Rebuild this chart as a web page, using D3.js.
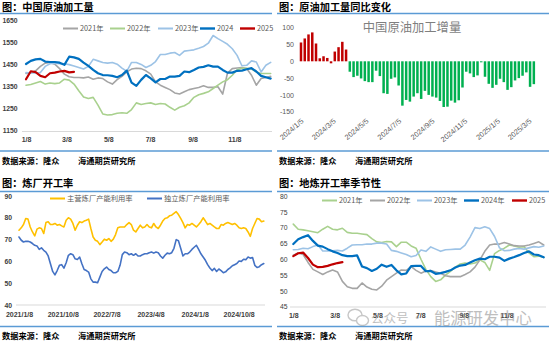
<!DOCTYPE html>
<html><head><meta charset="utf-8">
<script src="https://cdn.jsdelivr.net/npm/d3@7"></script>
<style>body{margin:0;background:#fff}svg{display:block}</style>
</head><body>
<svg id="c" width="550" height="341"></svg>
<script>
// ---------- DATA ----------
// Panel 1: China crude runs, weekly from 1/8 (seasonal)
const seasonTicks = ["1/8","3/8","5/8","7/8","9/8","11/8"];
const runs2021 = [1408,1410,1420,1440,1455,1458,1450,1430,1405,1393,1390,1390,1388,1392,1382,1388,1385,1370,1360,1380,1395,1415,1428,1432,1430,1420,1405,1370,1355,1345,1335,1320,1315,1325,1335,1340,1345,1352,1345,1345,1348,1315,1410,1430,1433,1435,1430,1400,1355,1385,1390,1395];
const runs2022 = [1355,1358,1365,1372,1360,1365,1362,1365,1382,1378,1360,1330,1302,1295,1300,1265,1225,1220,1222,1228,1230,1228,1245,1275,1268,1272,1275,1268,1272,1270,1255,1242,1255,1262,1275,1300,1312,1318,1325,1340,1355,1370,1380,1400,1425,1432,1432,1428,1415,1408,1408,1408];
const runs2023 = [1412,1410,1410,1412,1440,1452,1455,1452,1452,1448,1442,1435,1428,1440,1472,1465,1458,1455,1458,1450,1432,1418,1458,1458,1449,1435,1445,1462,1494,1494,1500,1503,1490,1509,1512,1515,1522,1530,1545,1580,1566,1553,1540,1520,1490,1443,1445,1465,1460,1415,1445,1458];
const runs2024 = [1451,1465,1472,1474,1462,1460,1460,1457,1447,1484,1481,1474,1457,1442,1424,1409,1401,1400,1397,1391,1401,1421,1367,1352,1379,1401,1386,1368,1383,1383,1394,1394,1397,1417,1414,1424,1435,1438,1445,1439,1439,1424,1412,1412,1420,1421,1427,1432,1417,1397,1391,1385];
const runs2025 = [1382,1418,1414,1397,1391,1409,1412,1417,1420,1413,1415];
const runsYTicks = [1150,1250,1350,1450,1550,1650];
const runsSeries = ["2021年","2022年","2023年","2024","2025"];

// Panel 2: YoY change, weekly from 2024/1/5
const yoyStart = "2024/1/5";
const yoyUp = [56,68,80,86,53,9,15,10,-6,29,42,58,35];
const yoyDown = [-31,-47,-43,-51,-59,-62,-62,-28,-44,-95,-97,-52,-48,-72,-132,-115,-120,-105,-95,-112,-88,-100,-105,-108,-118,-136,-135,-117,-123,-116,-78,-31,-36,-47,-42,-3,-46,-67,-79,-70,-52,-62,-85,-77,-57,-50,-43,-33,-76,-68];
const yoyTicks = ["2024/1/5","2024/3/5","2024/5/5","2024/7/5","2024/9/5","2024/11/5","2025/1/5","2025/3/5"];
const yoyYTicks = [-150,-100,-50,0,50,100];

// Panel 3: refinery utilisation, bi-weekly from 2021/1/8
const utilStart = "2021/1/8";
const utilMain = [74.3,75.4,76.9,79.7,79.4,75.8,73.5,71.7,74.8,75.4,75.1,72.8,77.8,78.2,76.9,76.9,77.4,76.6,76.9,76.3,75.8,78.9,80.0,79.4,77.4,74.3,76.6,78.2,77.8,78.5,78.9,79.4,75.1,71.2,69.7,69.2,67.7,68.9,70.2,69.7,70.5,69.2,70.2,72.3,75.4,75.8,75.8,75.8,76.9,77.8,76.9,74.3,73.5,75.1,76.6,75.4,75.8,76.9,75.8,75.4,77.4,75.8,75.1,76.6,78.5,79.7,80.0,80.9,81.2,82.0,82.8,81.5,79.7,77.8,75.4,76.9,76.6,77.4,76.6,75.8,76.9,78.2,80.0,78.5,76.9,77.4,76.6,75.8,75.1,75.1,76.9,76.6,77.4,77.8,77.4,76.9,77.4,76.6,75.4,75.1,75.4,75.1,73.5,71.5,75.1,77.4,79.7,79.4,78.2,78.5];
const utilIndep = [71.2,69.7,68.9,69.2,69.2,68.9,68.2,67.4,67.1,65.5,66.2,65.1,64.3,62.5,58.9,55.4,53.8,55.8,58.2,58.5,56.9,59.4,62.8,63.5,63.1,61.2,60.9,62.0,58.9,56.3,55.8,55.1,52.0,50.5,50.5,50.2,52.8,55.4,56.6,57.4,56.3,55.8,54.8,54.8,55.4,58.2,63.1,64.3,64.0,63.1,63.5,62.8,63.5,62.5,62.5,63.1,63.5,63.5,64.0,64.3,63.8,64.3,64.0,62.5,61.5,62.8,63.8,63.5,64.0,66.0,70.0,69.5,66.0,62.5,63.5,63.5,64.3,65.5,66.5,67.4,65.5,63.5,62.0,60.5,58.5,57.0,55.8,56.8,55.4,56.5,55.8,54.8,55.2,56.3,57.0,58.0,58.5,59.0,60.2,60.0,61.0,60.8,62.0,61.5,61.8,58.2,57.2,57.6,58.5,59.0];
const utilTicks = ["2021/1/8","2021/10/8","2022/7/8","2023/4/8","2024/1/8","2024/10/8"];
const utilYTicks = [40,50,60,70,80,90];
const utilSeries = ["主营炼厂产能利用率","独立炼厂产能利用率"];

// Panel 4: teapot utilisation seasonal, weekly from 1/8
const tp2021 = [71.1,69.5,69.3,69.0,68.7,68.4,69.5,70.4,69.5,69.3,69.8,68.5,68.2,68.2,68.0,67.8,66.5,65.5,65.3,65.6,65.5,64.0,65.4,65.4,64.2,63.5,60.0,56.8,54.5,53.0,53.5,55.0,56.2,57.5,58.5,58.8,58.5,58.8,59.8,59.0,56.5,61.8,62.8,63.5,64.5,64.2,63.8,64.0,62.0,60.8,61.0,60.6];
const tp2022 = [61.3,62.0,61.5,59.0,56.8,56.0,55.2,56.0,56.6,56.0,53.0,51.3,50.8,50.8,52.5,51.2,50.5,50.3,51.5,53.4,54.5,55.6,56.6,56.5,57.7,56.5,55.6,56.3,56.4,56.0,55.6,54.8,54.5,54.5,54.5,55.2,56.0,57.5,59.8,62.5,64.5,64.8,64.8,65.3,64.8,64.3,64.2,64.2,64.5,65.0,65.5,64.5];
const tp2023 = [63.0,63.1,63.5,63.3,64.0,64.5,62.6,62.6,62.7,62.8,62.6,63.5,64.5,64.6,64.6,64.8,64.8,65.1,65.1,64.8,62.8,62.5,62.0,61.5,60.8,61.2,62.9,62.5,63.9,63.2,62.5,63.0,63.1,63.2,63.2,64.5,67.0,70.0,69.7,70.3,69.7,67.2,63.6,62.7,62.8,63.2,63.4,63.2,63.6,64.0,63.8,64.2];
const tp2024 = [64.8,66.3,67.0,67.6,65.8,64.3,64.0,63.2,62.5,62.0,61.3,61.0,61.0,61.2,57.7,57.2,56.3,57.0,58.3,57.6,58.2,56.5,55.2,55.5,57.8,57.9,57.9,56.2,56.3,55.4,55.6,56.0,56.5,57.4,58.0,58.2,59.0,59.7,60.2,60.0,60.8,60.8,60.5,59.5,60.2,60.7,61.3,62.0,62.5,61.5,61.3,60.6];
const tp2025 = [61.0,61.9,62.1,60.4,58.3,57.5,57.6,57.9,58.4,58.8,59.1];
const tpYTicks = [45,50,55,60,65,70,75,80];
const tpSeries = ["2021年","2022年","2023年","2024年","2025"];

// ---------- SETUP ----------
const svg = d3.select("#c");
const LAT = "'Liberation Sans', Arial, sans-serif";
const CJK = "'Noto Sans CJK SC', 'Noto Sans', sans-serif";
const RULE = "#5B9BD5";
const AX = "#404040";
const C_GREY = "#A5A5A5", C_GREEN = "#A9D18E", C_LBLUE = "#9DC3E6", C_BLUE = "#0070C0", C_RED = "#C00000";
const plain = d => String(d);

const parseYMD = d3.timeParse("%Y/%m/%d");
const parseMD = s => { const [m, d] = s.split("/").map(Number); return new Date(2023, m - 1, d); };
const seasonDate = i => d3.timeDay.offset(new Date(2023, 0, 8), 7 * i);

function frame(x0, x1, title, top) {
  const tY = top ? 10.5 : 186.5, rTop = top ? 13.5 : 191.5, rBot = top ? 151 : 326.5, sY = top ? 164 : 339;
  svg.append("text").attr("x", x0 + 2).attr("y", tY).attr("font-family", CJK)
    .attr("font-size", 10.2).attr("font-weight", 700).attr("fill", "#000").text(title);
  svg.append("line").attr("x1", x0).attr("x2", x1).attr("y1", rTop).attr("y2", rTop)
    .attr("stroke", RULE).attr("stroke-width", 1.5);
  svg.append("line").attr("x1", x0).attr("x2", x1).attr("y1", rBot).attr("y2", rBot)
    .attr("stroke", RULE).attr("stroke-width", 1.5);
  svg.append("text").attr("x", x0 + 2).attr("y", sY).attr("font-family", CJK)
    .attr("font-size", 8.2).attr("font-weight", 700).attr("fill", "#000").text("数据来源：隆众");
  svg.append("text").attr("x", x0 + 78).attr("y", sY).attr("font-family", CJK)
    .attr("font-size", 8.2).attr("font-weight", 700).attr("fill", "#000").text("海通期货研究所");
}

function styleAxis(g, size, weight, color) {
  g.select(".domain").remove();
  g.selectAll("text").attr("font-family", LAT).attr("font-size", size)
    .attr("font-weight", weight).attr("fill", color);
}

function legend(items, y) {
  items.forEach(it => {
    svg.append("line").attr("x1", it.x).attr("x2", it.x + 15).attr("y1", y).attr("y2", y)
      .attr("stroke", it.color).attr("stroke-width", it.w || 2);
    svg.append("text").attr("x", it.x + 17).attr("y", y + 2.6).attr("font-family", CJK)
      .attr("font-size", 7.3).attr("fill", "#595959").text(it.label);
  });
}

function drawLine(data, xf, y, color, w) {
  svg.append("path").datum(data).attr("fill", "none").attr("stroke", color)
    .attr("stroke-width", w).attr("stroke-linejoin", "round").attr("stroke-linecap", "round")
    .attr("d", d3.line().x((d, i) => xf(i)).y(d => y(d)));
}

// ---------- PANEL 1 ----------
frame(0, 272, "图：中国原油加工量", true);
{
  const x = d3.scaleTime().domain([new Date(2023, 0, 8), new Date(2023, 11, 30)]).range([26, 270]);
  const y = d3.scaleLinear().domain([1150, 1650]).range([130.5, 20]);
  svg.append("line").attr("x1", 22).attr("x2", 272).attr("y1", 131.5).attr("y2", 131.5).attr("stroke", "#D9D9D9");
  const gy = svg.append("g").attr("transform", "translate(20.5,0)")
    .call(d3.axisLeft(y).tickValues(runsYTicks).tickFormat(plain).tickSize(0).tickPadding(3));
  styleAxis(gy, 6.8, 700, AX);
  const gx = svg.append("g").attr("transform", "translate(0,131.5)")
    .call(d3.axisBottom(x).tickValues(seasonTicks.map(parseMD)).tickFormat((d, i) => seasonTicks[i]).tickSize(0).tickPadding(6));
  styleAxis(gx, 7, 700, AX);
  const xi = i => x(seasonDate(i));
  drawLine(runs2021, xi, y, C_GREY, 1.6);
  drawLine(runs2022, xi, y, C_GREEN, 1.6);
  drawLine(runs2023, xi, y, C_LBLUE, 1.6);
  drawLine(runs2024, xi, y, C_BLUE, 2.2);
  drawLine(runs2025, xi, y, C_RED, 2.2);
  legend([
    {x: 63, color: C_GREY, label: runsSeries[0]},
    {x: 110, color: C_GREEN, label: runsSeries[1]},
    {x: 158, color: C_LBLUE, label: runsSeries[2]},
    {x: 200, color: C_BLUE, label: runsSeries[3], w: 2.4},
    {x: 240, color: C_RED, label: runsSeries[4], w: 2.4}
  ], 28.5);
}

// ---------- PANEL 2 ----------
frame(277, 549, "图：原油加工量同比变化", true);
{
  const t0 = parseYMD(yoyStart);
  const x = d3.scaleTime().domain([t0, parseYMD("2025/3/5")]).range([301, 529]);
  const y = d3.scaleLinear().domain([-150, 100]).range([111.7, 27.7]);
  const bw = 2.5;
  const gy = svg.append("g").attr("transform", "translate(297,0)")
    .call(d3.axisLeft(y).tickValues(yoyYTicks).tickFormat(plain).tickSize(0).tickPadding(3));
  styleAxis(gy, 7, 400, "#595959");
  svg.append("text").attr("x", 412).attr("y", 31.5).attr("text-anchor", "middle")
    .attr("font-family", CJK).attr("font-size", 12.3).attr("fill", "#7F7F7F").text("中国原油加工增量");
  const bars = (vals, offset, color) => svg.append("g").selectAll("rect").data(vals).join("rect")
    .attr("x", (d, i) => x(d3.timeDay.offset(t0, 7 * (i + offset))) - bw / 2)
    .attr("y", d => y(Math.max(0, d)))
    .attr("width", bw)
    .attr("height", d => Math.abs(y(d) - y(0)))
    .attr("fill", color);
  bars(yoyUp, 0, C_RED);
  bars(yoyDown, yoyUp.length, "#00B050");
  const gx = svg.append("g");
  yoyTicks.forEach(s => {
    gx.append("text").attr("transform", `translate(${x(parseYMD(s)) + 1.5},120) rotate(-40)`)
      .attr("text-anchor", "end").attr("dy", "0.35em").attr("font-family", LAT)
      .attr("font-size", 7.3).attr("fill", "#595959").text(s);
  });
}

// ---------- PANEL 3 ----------
frame(0, 272, "图：炼厂开工率", false);
{
  const t0 = parseYMD(utilStart);
  const x = d3.scaleTime().domain([t0, parseYMD("2024/10/8")]).range([19, 238.6]);
  const y = d3.scaleLinear().domain([40, 90]).range([305, 196]);
  svg.append("line").attr("x1", 16).attr("x2", 265).attr("y1", 305).attr("y2", 305).attr("stroke", "#D9D9D9");
  const gy = svg.append("g").attr("transform", "translate(15,0)")
    .call(d3.axisLeft(y).tickValues(utilYTicks).tickFormat(plain).tickSize(0).tickPadding(3));
  styleAxis(gy, 6.8, 700, AX);
  const gx = svg.append("g").attr("transform", "translate(0,305)")
    .call(d3.axisBottom(x).tickValues(utilTicks.map(parseYMD)).tickFormat((d, i) => utilTicks[i]).tickSize(0).tickPadding(7));
  styleAxis(gx, 7, 700, AX);
  const xi = i => x(d3.timeDay.offset(t0, 14 * i));
  drawLine(utilMain, xi, y, "#FFC000", 1.6);
  drawLine(utilIndep, xi, y, "#4472C4", 1.6);
  legend([
    {x: 50, color: "#FFC000", label: utilSeries[0]},
    {x: 147, color: "#4472C4", label: utilSeries[1]}
  ], 198.5);
}

// ---------- PANEL 4 ----------
frame(277, 549, "图：地炼开工率季节性", false);
{
  const x = d3.scaleTime().domain([new Date(2023, 0, 8), new Date(2023, 11, 30)]).range([293.3, 543]);
  const y = d3.scaleLinear().domain([45, 80]).range([306.7, 196]);
  svg.append("line").attr("x1", 290).attr("x2", 546).attr("y1", 307).attr("y2", 307).attr("stroke", "#D9D9D9");
  const gy = svg.append("g").attr("transform", "translate(290.5,0)")
    .call(d3.axisLeft(y).tickValues(tpYTicks).tickFormat(plain).tickSize(0).tickPadding(3));
  styleAxis(gy, 6.8, 400, AX);
  const gx = svg.append("g").attr("transform", "translate(0,307)")
    .call(d3.axisBottom(x).tickValues(seasonTicks.map(parseMD)).tickFormat((d, i) => seasonTicks[i]).tickSize(0).tickPadding(6));
  styleAxis(gx, 7, 700, AX);

  const xi = i => x(seasonDate(i));
  drawLine(tp2021, xi, y, C_GREEN, 1.6);
  drawLine(tp2022, xi, y, C_GREY, 1.6);
  drawLine(tp2023, xi, y, C_LBLUE, 1.6);
  drawLine(tp2024, xi, y, C_BLUE, 2.2);
  drawLine(tp2025, xi, y, C_RED, 2.2);
  legend([
    {x: 322, color: C_GREEN, label: tpSeries[0]},
    {x: 370, color: C_GREY, label: tpSeries[1]},
    {x: 417, color: C_LBLUE, label: tpSeries[2]},
    {x: 464, color: C_BLUE, label: tpSeries[3], w: 2.4},
    {x: 512, color: C_RED, label: tpSeries[4], w: 2.4}
  ], 200.5);

  // watermark (overlay, as in the reference)
  const wm = svg.append("g").attr("opacity", 0.55).attr("fill", "#8a8a8a");
  wm.append("ellipse").attr("cx", 355).attr("cy", 315).attr("rx", 7).attr("ry", 5.8).attr("fill", "none").attr("stroke", "#9a9a9a").attr("stroke-width", 1.4);
  wm.append("ellipse").attr("cx", 362.5).attr("cy", 320.5).attr("rx", 6).attr("ry", 5).attr("fill", "#fff").attr("stroke", "#9a9a9a").attr("stroke-width", 1.4);
  wm.append("text").attr("x", 371).attr("y", 323).attr("font-family", CJK).attr("font-size", 12.5).text("公众号");
  wm.append("text").attr("x", 411).attr("y", 323).attr("font-family", CJK).attr("font-size", 12.5).text("·");
  wm.append("text").attr("x", 434).attr("y", 324).attr("font-family", CJK).attr("font-size", 16.3).text("能源研发中心");
}
</script>
</body></html>
